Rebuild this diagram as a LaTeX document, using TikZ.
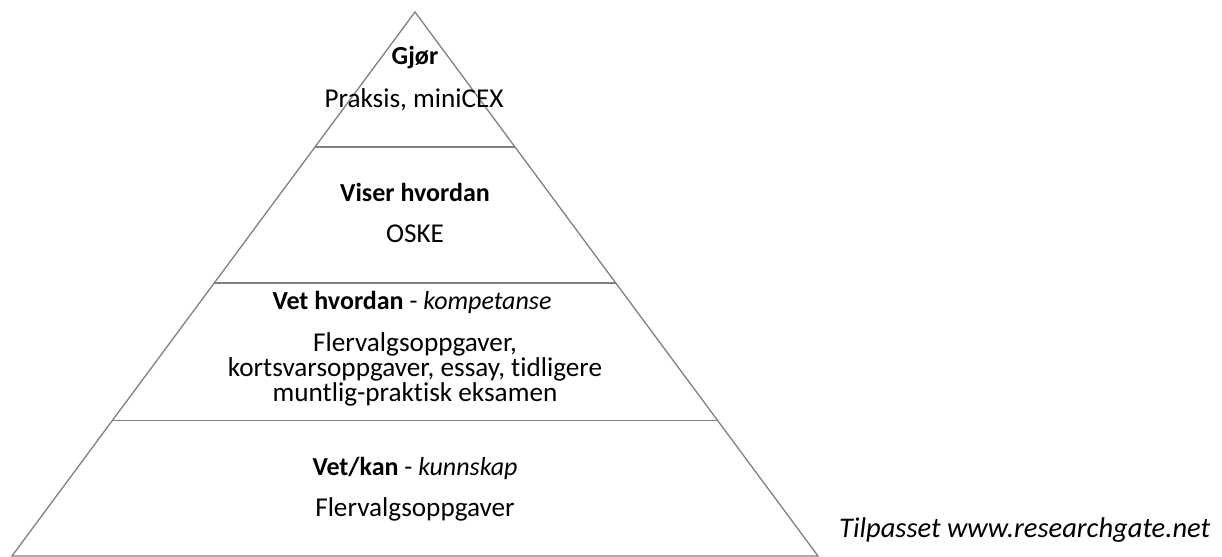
\documentclass[tikz,border=0pt]{standalone}
\usepackage{fontspec}
\setmainfont{Carlito}[Ligatures=NoCommon]
\usetikzlibrary{calc}
\begin{document}
\begin{tikzpicture}[x=1bp,y=-1bp,
  edge/.style={draw=black!50,line width=1.3bp},
  head/.style={anchor=base,inner sep=0pt,font=\fontsize{26bp}{30bp}\selectfont},
  body/.style={anchor=base,inner sep=0pt,font=\fontsize{27.2bp}{30bp}\selectfont},
  note/.style={anchor=base west,inner sep=0pt,font=\fontsize{28.5bp}{32bp}\selectfont\itshape}]
\useasboundingbox (0,0) rectangle (1222,557);
\coordinate (apex) at (415,12);
\coordinate (bl) at (12,556);
\coordinate (br) at (818,556);
\coordinate (l1) at ($(apex)!0.2482!(bl)$);
\coordinate (r1) at ($(apex)!0.2482!(br)$);
\coordinate (l2) at ($(apex)!0.4982!(bl)$);
\coordinate (r2) at ($(apex)!0.4982!(br)$);
\coordinate (l3) at ($(apex)!0.7509!(bl)$);
\coordinate (r3) at ($(apex)!0.7509!(br)$);
\draw[edge,line join=miter] (bl) -- (apex) -- (br) -- cycle;
\draw[edge] (l1) -- (r1);
\draw[edge] (l2) -- (r2);
\draw[edge] (l3) -- (r3);
\node[head] (t1) at (415,65) {\textbf{Gjør}};
\node[body] (b1) at (414,108) {Praksis, miniCEX};
\node[head] (t2) at (415,201.5) {\textbf{Viser hvordan}};
\node[body] (b2) at (415,243) {OSKE};
\node[head] (t3) at (412,310) {\textbf{Vet hvordan} - \textit{kompetanse}};
\node[body] (b3a) at (415,351.5) {Flervalgsoppgaver,};
\node[body] (b3b) at (415,376.5) {kortsvarsoppgaver, essay, tidligere};
\node[body] (b3c) at (415,401.5) {muntlig-praktisk eksamen};
\node[head] (t4) at (415,475) {\textbf{Vet/kan} - \textit{kunnskap}};
\node[body] (b4) at (415,516.5) {Flervalgsoppgaver};
\node[note] (src) at (839,537) {Tilpasset www.researchgate.net};
\end{tikzpicture}
\end{document}
